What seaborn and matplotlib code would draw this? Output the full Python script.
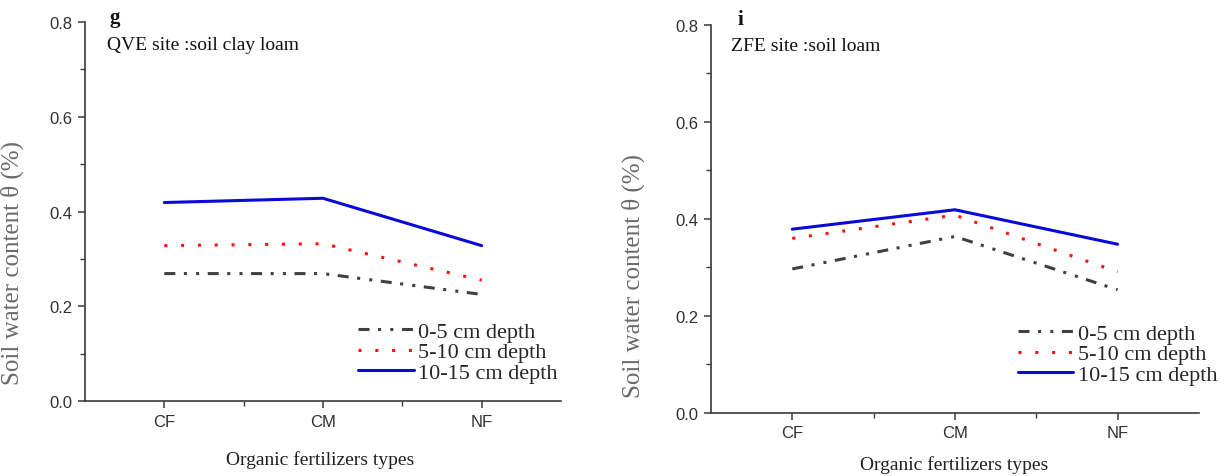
import matplotlib
matplotlib.use("Agg")
import matplotlib.pyplot as plt
import seaborn as sns
import pandas as pd

# Fertilizer treatments on the x axis
treatments = ["CF", "CM", "NF"]
depth_labels = ["0-5 cm depth", "5-10 cm depth", "10-15 cm depth"]

# QVE site (clay loam): soil water content per depth
qve_0_5 = [0.269, 0.269, 0.225]
qve_5_10 = [0.328, 0.332, 0.255]
qve_10_15 = [0.419, 0.428, 0.328]

# ZFE site (loam): soil water content per depth
zfe_0_5 = [0.297, 0.364, 0.254]
zfe_5_10 = [0.360, 0.408, 0.291]
zfe_10_15 = [0.379, 0.419, 0.348]

sns.set_theme(style="ticks")
plt.rcParams["font.family"] = ["Liberation Sans", "DejaVu Sans"]

SERIF = ["Liberation Serif", "DejaVu Serif"]
LW = 2.2
line_styles = {
    "0-5 cm depth": dict(color="#404040", linestyle=(0, (3.6, 2.8, 1.0, 3.0, 1.0, 2.8))),
    "5-10 cm depth": dict(color="#ff1010", linestyle=(0, (1.0, 4.5))),
    "10-15 cm depth": dict(color="#0a0ad8", linestyle="-"),
}

fig = plt.figure(figsize=(12.26, 4.77), dpi=100)
ax_left = fig.add_axes([0.0693, 0.1572, 0.3883, 0.7945])
ax_right = fig.add_axes([0.5799, 0.1321, 0.3980, 0.8134])

panels = [
    (ax_left, "g", "QVE site :soil clay loam", [qve_0_5, qve_5_10, qve_10_15],
     dict(ylab=(-0.128, 0.367), xlab=(0.494, -0.153), letter=(0.052, 1.013),
          sub=(0.046, 0.942), leg=(0.574, 0.129))),
    (ax_right, "i", "ZFE site :soil loam", [zfe_0_5, zfe_5_10, zfe_10_15],
     dict(ylab=(-0.135, 0.356), xlab=(0.498, -0.131), letter=(0.055, 1.015),
          sub=(0.041, 0.946), leg=(0.629, 0.152))),
]

for ax, letter, subtitle, series, pos in panels:
    for label, values in zip(depth_labels, series):
        df = pd.DataFrame({"treatment": treatments, "theta": values})
        sns.lineplot(data=df, x="treatment", y="theta", ax=ax, sort=False,
                     lw=LW, label=label, errorbar=None, **line_styles[label])

    ax.set_xlim(-0.5, 2.5)
    ax.set_ylim(0.0, 0.8)
    ax.set_yticks([0.0, 0.2, 0.4, 0.6, 0.8])
    ax.set_yticks([0.1, 0.3, 0.5, 0.7], minor=True)
    ax.set_xticks([0.5, 1.5], minor=True)
    ax.set_yticklabels(["0.0", "0.2", "0.4", "0.6", "0.8"])

    for side in ("top", "right"):
        ax.spines[side].set_visible(False)
    for side in ("left", "bottom"):
        ax.spines[side].set_color("#3a3a3a")
        ax.spines[side].set_linewidth(1.2)

    ax.tick_params(axis="both", which="major", direction="out", length=5,
                   width=1.1, color="#3a3a3a", labelsize=12,
                   labelcolor="#303030", pad=4)
    ax.tick_params(axis="both", which="minor", direction="out", length=3.5,
                   width=1.0, color="#3a3a3a")

    ax.set_ylabel("Soil water content θ (%)", family=SERIF, fontsize=18,
                  color="#6a6a6a")
    ax.yaxis.set_label_coords(*pos["ylab"])
    ax.set_xlabel("Organic fertilizers types", family=SERIF, fontsize=14,
                  color="#202020")
    ax.xaxis.set_label_coords(*pos["xlab"])
    ax.xaxis.label.set_verticalalignment("center")

    ax.text(*pos["letter"], letter, transform=ax.transAxes, family=SERIF,
            fontsize=15, fontweight="bold", va="center", ha="left",
            color="#111111")
    ax.text(*pos["sub"], subtitle, transform=ax.transAxes, family=SERIF,
            fontsize=14, va="center", ha="left", color="#111111")

    ax.legend(loc="center left", bbox_to_anchor=pos["leg"], frameon=False,
              prop={"family": SERIF, "size": 16}, handlelength=2.5,
              handletextpad=0.2, labelspacing=0.0, borderpad=0,
              borderaxespad=0)

fig.savefig("out.png", dpi=100)
